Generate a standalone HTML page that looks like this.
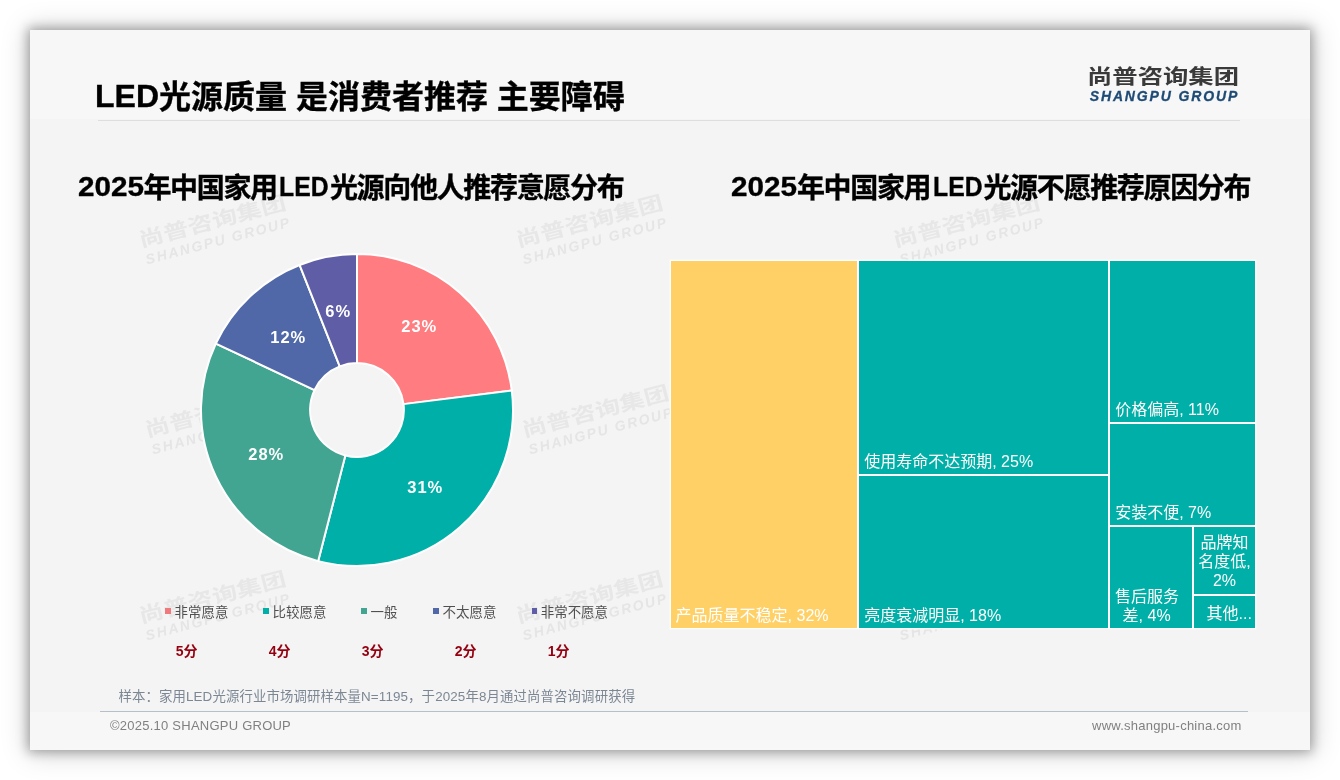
<!DOCTYPE html>
<html lang="zh-CN">
<head>
<meta charset="utf-8">
<title>LED光源质量 是消费者推荐 主要障碍</title>
<style>
html,body{margin:0;padding:0;}
body{width:1340px;height:780px;background:#fff;position:relative;overflow:hidden;
  font-family:"Liberation Sans","Noto Sans CJK SC",sans-serif;}
.abs{position:absolute;white-space:nowrap;}
#card{position:absolute;left:30px;top:30px;width:1280px;height:720px;background:#f4f4f4;
  box-shadow:0 0 11px 2px rgba(0,0,0,.33),1px 1px 26px 3px rgba(0,0,0,.17);}
#hdr{position:absolute;left:0;top:0;width:1280px;height:89px;background:#f7f7f7;}
#ftr{position:absolute;left:0;top:682px;width:1280px;height:38px;background:#f7f7f7;}
#hline{position:absolute;left:98px;top:120px;width:1142px;height:1px;background:#dedede;}
#fline{position:absolute;left:100px;top:711px;width:1147.6px;height:1px;background:#b6c0cc;}
#title{-webkit-text-stroke:0.35px #000;left:95px;top:75px;font-size:32px;font-weight:bold;color:#000;line-height:44px;}
.ct{-webkit-text-stroke:0.35px #000;font-size:28px;font-weight:bold;color:#000;line-height:36px;letter-spacing:-1.33px;}
.ct .d{letter-spacing:0;display:inline-block;transform:scaleX(1.06);transform-origin:0 0;margin-right:3.6px;position:relative;top:-2px;}
.ct .l{letter-spacing:0;display:inline-block;transform:scaleX(0.885);transform-origin:0 0;margin-left:2.6px;margin-right:-5.4px;position:relative;top:-2px;}
#logo1{left:1087px;top:63px;font-size:20px;font-weight:bold;color:#3a3a3a;line-height:28px;
  transform-origin:0 0;transform:scaleX(1.267);}
#logo2{-webkit-text-stroke:0.3px #1e4b76;left:1089.7px;top:86px;font-size:14px;font-weight:bold;font-style:italic;color:#1e4b76;
  line-height:20px;letter-spacing:1.87px;}
.wm{position:absolute;white-space:nowrap;color:#e5e5e5;font-weight:bold;text-align:left;
  transform-origin:0 0;transform:rotate(-14.7deg);}
.wm b{display:block;font-size:20px;line-height:23px;margin-top:1.5px;font-weight:bold;color:#e7e7e7;transform-origin:0 0;transform:scaleX(1.26);}
.wm i{display:block;font-size:14px;line-height:16px;letter-spacing:1.87px;margin-left:1.5px;}
.pl{letter-spacing:.9px;margin-left:1.2px;font-size:16.5px;font-weight:bold;color:#fff;line-height:20px;transform:translate(-50%,-50%);}
.lg{font-size:13.45px;color:#505050;line-height:18px;}
.lg span{display:block;position:absolute;left:-9.2px;top:4.9px;width:5.5px;height:5.5px;}
.sc{font-size:14px;font-weight:bold;color:#940010;line-height:18px;}
#note{left:118.4px;top:688.3px;letter-spacing:.125px;font-size:13.4px;color:#7c8794;line-height:18px;}
.ft{letter-spacing:.24px;font-size:13px;color:#808080;line-height:18px;}
.tm{position:absolute;background:#00b0a8;box-shadow:0 0 0 1.3px #fff;}
.tl{position:absolute;white-space:nowrap;color:#fff;font-size:16px;line-height:19px;}
</style>
</head>
<body>
<div id="card"><div id="hdr"></div><div id="ftr"></div></div>
<div id="hline"></div>
<div id="fline"></div>

<!-- watermarks -->
<div class="wm" style="left:136px;top:228px;"><b>尚普咨询集团</b><i>SHANGPU GROUP</i></div>
<div class="wm" style="left:513px;top:228px;"><b>尚普咨询集团</b><i>SHANGPU GROUP</i></div>
<div class="wm" style="left:890px;top:228px;"><b>尚普咨询集团</b><i>SHANGPU GROUP</i></div>
<div class="wm" style="left:141.5px;top:418px;"><b>尚普咨询集团</b><i>SHANGPU GROUP</i></div>
<div class="wm" style="left:518.5px;top:418px;"><b>尚普咨询集团</b><i>SHANGPU GROUP</i></div>
<div class="wm" style="left:895.5px;top:418px;"><b>尚普咨询集团</b><i>SHANGPU GROUP</i></div>
<div class="wm" style="left:136px;top:604px;"><b>尚普咨询集团</b><i>SHANGPU GROUP</i></div>
<div class="wm" style="left:513px;top:604px;"><b>尚普咨询集团</b><i>SHANGPU GROUP</i></div>
<div class="wm" style="left:890px;top:604px;"><b>尚普咨询集团</b><i>SHANGPU GROUP</i></div>

<div id="title" class="abs"><span style="position:relative;top:-1px">LED</span>光源质量 是消费者推荐 主要障碍</div>
<div id="logo1" class="abs">尚普咨询集团</div>
<div id="logo2" class="abs">SHANGPU GROUP</div>

<div id="ct1" class="abs ct" style="left:77.5px;top:170.5px;"><span class="d">2025</span>年中国家用<span class="l">LED</span>光源向他人推荐意愿分布</div>
<div id="ct2" class="abs ct" style="left:731px;top:170.5px;"><span class="d">2025</span>年中国家用<span class="l">LED</span>光源不愿推荐原因分布</div>

<!-- donut -->
<svg id="donut" class="abs" style="left:190px;top:243.25px;" width="334" height="334" viewBox="-167 -167 334 334">
<g stroke="#fff" stroke-width="2" stroke-linejoin="round">
<path d="M0.00 -156.00 A156 156 0 0 1 154.77 -19.55 L46.53 -5.88 A46.9 46.9 0 0 0 0.00 -46.90 Z" fill="#ff7c80"/>
<path d="M154.77 -19.55 A156 156 0 0 1 -38.80 151.10 L-11.66 45.43 A46.9 46.9 0 0 0 46.53 -5.88 Z" fill="#00b0a8"/>
<path d="M-38.80 151.10 A156 156 0 0 1 -141.15 -66.42 L-42.44 -19.97 A46.9 46.9 0 0 0 -11.66 45.43 Z" fill="#42a592"/>
<path d="M-141.15 -66.42 A156 156 0 0 1 -57.43 -145.05 L-17.27 -43.61 A46.9 46.9 0 0 0 -42.44 -19.97 Z" fill="#5068a8"/>
<path d="M-57.43 -145.05 A156 156 0 0 1 -0.00 -156.00 L-0.00 -46.90 A46.9 46.9 0 0 0 -17.27 -43.61 Z" fill="#5f5da6"/>
</g>
</svg>
<div class="abs pl" style="left:418px;top:326px;">23%</div>
<div class="abs pl" style="left:424px;top:487px;">31%</div>
<div class="abs pl" style="left:265px;top:454px;">28%</div>
<div class="abs pl" style="left:287px;top:337px;">12%</div>
<div class="abs pl" style="left:337px;top:311px;">6%</div>

<!-- legend -->
<div class="abs lg" style="left:174.6px;top:603.5px;"><span style="background:#f0797d"></span>非常愿意</div>
<div class="abs lg" style="left:272.6px;top:603.5px;"><span style="background:#00b0a8"></span>比较愿意</div>
<div class="abs lg" style="left:370.6px;top:603.5px;"><span style="background:#42a592"></span>一般</div>
<div class="abs lg" style="left:442.6px;top:603.5px;"><span style="background:#5068a8"></span>不太愿意</div>
<div class="abs lg" style="left:540.8px;top:603.5px;"><span style="background:#5f5da6"></span>非常不愿意</div>

<div class="abs sc" style="left:175.8px;top:642px;">5分</div>
<div class="abs sc" style="left:268.8px;top:642px;">4分</div>
<div class="abs sc" style="left:361.8px;top:642px;">3分</div>
<div class="abs sc" style="left:454.8px;top:642px;">2分</div>
<div class="abs sc" style="left:547.8px;top:642px;">1分</div>

<div id="note" class="abs">样本：家用LED光源行业市场调研样本量N=1195，于2025年8月通过尚普咨询调研获得</div>
<div id="f1" class="abs ft" style="left:110px;top:716.7px;">©2025.10 SHANGPU GROUP</div>
<div id="f2" class="abs ft" style="left:1092px;top:716.7px;">www.shangpu-china.com</div>

<!-- treemap -->
<div class="tm" style="left:671.2px;top:261px;width:185.6px;height:367px;background:#ffd066;"></div>
<div class="tm" style="left:859px;top:261px;width:249px;height:213px;"></div>
<div class="tm" style="left:859px;top:476px;width:249px;height:152px;"></div>
<div class="tm" style="left:1110px;top:261px;width:145px;height:161px;"></div>
<div class="tm" style="left:1110px;top:424px;width:145px;height:101px;"></div>
<div class="tm" style="left:1110px;top:527px;width:82px;height:101px;"></div>
<div class="tm" style="left:1194px;top:527px;width:61px;height:67px;"></div>
<div class="tm" style="left:1194px;top:596px;width:61px;height:32px;"></div>

<div class="tl" style="left:675.6px;top:606.3px;">产品质量不稳定, 32%</div>
<div class="tl" style="left:864.2px;top:452.2px;">使用寿命不达预期, 25%</div>
<div class="tl" style="left:864.2px;top:606.3px;">亮度衰减明显, 18%</div>
<div class="tl" style="left:1115.2px;top:400.2px;">价格偏高, 11%</div>
<div class="tl" style="left:1115.2px;top:503.2px;">安装不便, 7%</div>
<div class="tl" style="left:1115px;top:586.7px;">售后服务<br><span style="margin-left:7.6px">差, 4%</span></div>
<div class="tl" style="left:1194px;top:532.5px;width:61px;text-align:center;">品牌知<br>名度低,<br>2%</div>
<div class="tl" style="left:1206.5px;top:603.7px;">其他...</div>

</body>
</html>
